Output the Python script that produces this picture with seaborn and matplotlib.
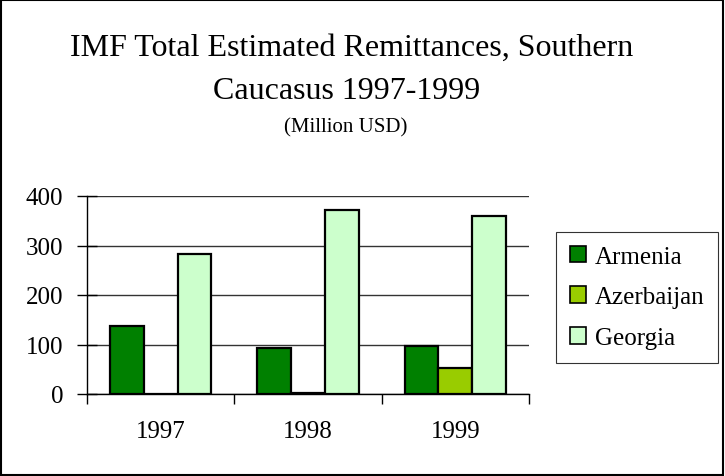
import matplotlib
matplotlib.use("Agg")
import matplotlib.pyplot as plt
import seaborn as sns
import pandas as pd
from matplotlib.patches import Rectangle

# Data (million USD)
years = ["1997", "1998", "1999"]
countries = ["Armenia", "Azerbaijan", "Georgia"]
armenia = [138, 93, 96]
azerbaijan = [0, 3, 52]
georgia = [283, 372, 360]
colors = ["#008000", "#99CC00", "#CCFFCC"]

df = pd.DataFrame({
    "year": years * 3,
    "country": [c for c in countries for _ in years],
    "value": armenia + azerbaijan + georgia,
})

sns.set_theme(style="white")
plt.rcParams["font.family"] = ["Liberation Serif", "DejaVu Serif"]
plt.rcParams["text.color"] = "black"
plt.rcParams["xtick.color"] = "black"
plt.rcParams["ytick.color"] = "black"

fig = plt.figure(figsize=(7.25, 4.77), dpi=100)
ax = fig.add_axes([87 / 725, 82 / 477, 442 / 725, 198 / 477])

sns.barplot(
    df, x="year", y="value", hue="country", order=years, hue_order=countries,
    palette=colors, width=0.69, gap=0, edgecolor="black", linewidth=1.6,
    saturation=1, ax=ax,
)

# Format
ax.set_ylim(0, 400)
ax.set_xlim(-0.5, 2.5)
ax.set_yticks([0, 100, 200, 300, 400])
ax.yaxis.grid(True, color="#333333", linewidth=1)
ax.set_axisbelow(True)
ax.set_xlabel("")
ax.set_ylabel("")
for s in ["top", "right"]:
    ax.spines[s].set_visible(False)
for s in ["left", "bottom"]:
    ax.spines[s].set_color("black")
    ax.spines[s].set_linewidth(1)

ax.set_xticks([-0.5, 0.5, 1.5, 2.5])
ax.set_xticklabels([])
ax.set_xticks([0, 1, 2], minor=True)
ax.set_xticklabels(years, minor=True, fontsize=18)
ax.tick_params(axis="x", which="major", direction="out", length=7, width=1, color="black", bottom=True)
ax.tick_params(axis="x", which="minor", length=0, pad=19)
ax.tick_params(axis="y", direction="inout", length=14, width=1, color="black", left=True, labelsize=18, pad=10)

ax.legend(
    loc="upper left", bbox_to_anchor=(556 / 725, 1 - 233 / 477), bbox_transform=fig.transFigure,
    frameon=True, fancybox=False, edgecolor="black", fontsize=18, handlelength=0.65,
    handleheight=0.65, handletextpad=0.35, labelspacing=0.74, borderpad=0.55,
    borderaxespad=0, title=None,
)
ax.get_legend().get_frame().set_linewidth(0.8)
for h in ax.get_legend().legend_handles:
    h.set_edgecolor("black")
    h.set_linewidth(1.2)

fig.text(352 / 725, 1 - 56 / 477, "IMF Total Estimated Remittances, Southern", ha="center", va="baseline", fontsize=23)
fig.text(347 / 725, 1 - 99 / 477, "Caucasus 1997-1999", ha="center", va="baseline", fontsize=23)
fig.text(346 / 725, 1 - 132 / 477, "(Million USD)", ha="center", va="baseline", fontsize=15)

fig.patches.append(Rectangle((0.002, 0.003), 0.995, 0.994, transform=fig.transFigure,
                             fill=False, edgecolor="black", linewidth=1.5))

fig.savefig("out.png", dpi=100)
